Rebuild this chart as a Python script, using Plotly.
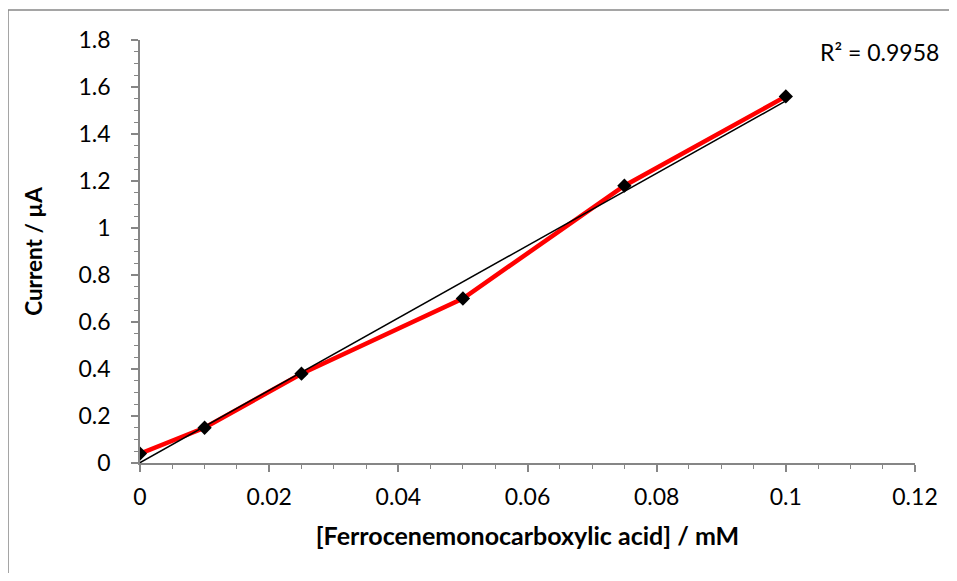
import numpy as np
import plotly.graph_objects as go

conc = [0, 0.01, 0.025, 0.05, 0.075, 0.1]
current = [0.04, 0.15, 0.38, 0.70, 1.18, 1.56]
x_ticks = [0, 0.02, 0.04, 0.06, 0.08, 0.1, 0.12]
x_labels = ["0", "0.02", "0.04", "0.06", "0.08", "0.1", "0.12"]
y_ticks = [0, 0.2, 0.4, 0.6, 0.8, 1.0, 1.2, 1.4, 1.6, 1.8]
y_labels = ["0", "0.2", "0.4", "0.6", "0.8", "1", "1.2", "1.4", "1.6", "1.8"]
r2_text = "R² = 0.9958"

slope, intercept = np.polyfit(conc, current, 1)
trend_x = [conc[0], conc[-1]]
trend_y = [intercept + slope * v for v in trend_x]

fig = go.Figure()
fig.add_trace(go.Scatter(x=conc, y=current, mode="lines",
                         line=dict(color="#ff0000", width=4.5), showlegend=False))
fig.add_trace(go.Scatter(x=trend_x, y=trend_y, mode="lines",
                         line=dict(color="black", width=1.5), showlegend=False))
fig.add_trace(go.Scatter(x=conc, y=current, mode="markers",
                         marker=dict(symbol="diamond", size=11, color="black"),
                         showlegend=False))

FONT = "Lato, 'Open Sans', sans-serif"
axis_col = "#868686"

fig.update_xaxes(range=[0, 0.12], tickvals=x_ticks, ticktext=x_labels,
                 showgrid=False, zeroline=False, showline=True, linecolor=axis_col,
                 linewidth=1.5, ticks="outside", ticklen=7, tickwidth=1.5,
                 tickcolor=axis_col, ticklabelstandoff=6,
                 minor=dict(dtick=0.005, ticks="outside", ticklen=4, tickwidth=1.2,
                            tickcolor=axis_col, showgrid=False),
                 tickfont=dict(family=FONT, size=23, color="black"),
                 title=dict(text="<b>[Ferrocenemonocarboxylic acid] / mM</b>",
                            font=dict(family=FONT, size=25, color="black"), standoff=18))
fig.update_yaxes(range=[0, 1.8], tickvals=y_ticks, ticktext=y_labels,
                 showgrid=False, zeroline=False, showline=True, linecolor=axis_col,
                 linewidth=1.5, ticks="outside", ticklen=7, tickwidth=1.5,
                 tickcolor=axis_col, ticklabelstandoff=16,
                 minor=dict(dtick=0.05, ticks="outside", ticklen=4, tickwidth=1.2,
                            tickcolor=axis_col, showgrid=False),
                 tickfont=dict(family=FONT, size=23, color="black"),
                 title=dict(text="<b>Current / µA</b>",
                            font=dict(family=FONT, size=22.5, color="black"), standoff=30))

# page has an 8px body margin; figure sized to fit the window
OFF = 8
W, H = 941, 565
L, R, T, B = 132, 34, 32, 110
pw, ph = W - L - R, H - T - B

def px(xp):
    return (xp - OFF - L) / pw

def py(yp):
    return (OFF + H - B - yp) / ph

fig.add_shape(type="rect", xref="paper", yref="paper",
              x0=px(8), x1=px(W + 40), y0=py(H + 40), y1=py(10),
              line=dict(color="#888888", width=1.5), fillcolor="rgba(0,0,0,0)", layer="below")

fig.add_annotation(x=px(941), y=py(52), xref="paper", yref="paper", text=r2_text,
                   showarrow=False, xanchor="right", yanchor="middle",
                   font=dict(family=FONT, size=23, color="black"))

fig.update_layout(width=W, height=H, margin=dict(l=L, r=R, t=T, b=B),
                  plot_bgcolor="white", paper_bgcolor="white")

fig.write_html("out.html")
